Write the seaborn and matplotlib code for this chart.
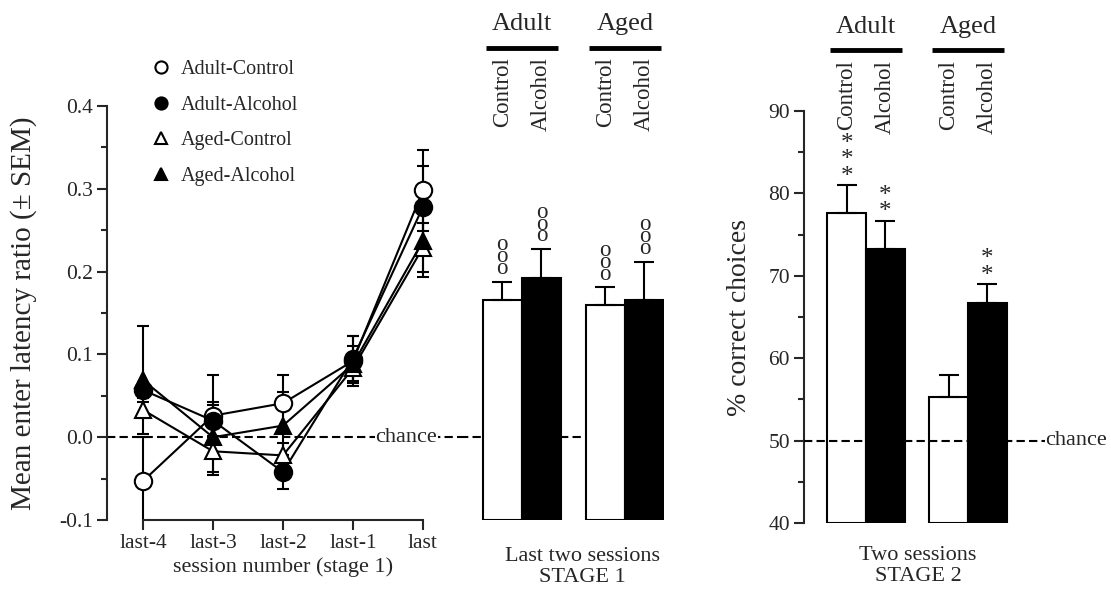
import numpy as np
import pandas as pd
import seaborn as sns
import matplotlib.pyplot as plt
import matplotlib.transforms as mtransforms

# ---- data ----
sessions = ['last-4', 'last-3', 'last-2', 'last-1', 'last']
groups = ['Adult-Control', 'Adult-Alcohol', 'Aged-Control', 'Aged-Alcohol']
stage1_means = {
    'Adult-Control': [-0.053, 0.026, 0.041, 0.092, 0.298],
    'Adult-Alcohol': [0.057, 0.020, -0.042, 0.095, 0.278],
    'Aged-Control': [0.033, -0.017, -0.022, 0.083, 0.229],
    'Aged-Alcohol': [0.069, 0.000, 0.014, 0.088, 0.237],
}
stage1_sems = {
    'Adult-Control': [0.053, 0.049, 0.034, 0.030, 0.049],
    'Adult-Alcohol': [0.010, 0.019, 0.020, 0.027, 0.049],
    'Aged-Control': [0.010, 0.029, 0.015, 0.018, 0.030],
    'Aged-Alcohol': [0.065, 0.042, 0.041, 0.022, 0.043],
}

ages = ['Adult', 'Adult', 'Aged', 'Aged']
treatments = ['Control', 'Alcohol', 'Control', 'Alcohol']
last_two_mean = [0.166, 0.192, 0.160, 0.166]
last_two_sem = [0.022, 0.035, 0.021, 0.046]
last_two_marks = ['ooo', 'ooo', 'ooo', 'ooo']

stage2_mean = [77.6, 73.3, 55.3, 66.7]
stage2_sem = [3.4, 3.4, 2.7, 2.3]
stage2_marks = ['***', '**', '', '**']

age_order = ['Adult', 'Aged']
treat_order = ['Control', 'Alcohol']
fills = {'Control': 'white', 'Alcohol': 'black'}

sns.set_style('ticks')
plt.rcParams['font.family'] = ['Liberation Serif', 'DejaVu Serif']
plt.rcParams['axes.linewidth'] = 1.5

fig = plt.figure(figsize=(11.11, 5.90), dpi=100)
W, H = 1111, 590


def px_axes(x0, x1, y_top, y_bot):
    return fig.add_axes([x0 / W, (H - y_bot) / H, (x1 - x0) / W, (y_bot - y_top) / H])


ax1 = px_axes(107, 460, 106, 520)
ax2 = px_axes(460, 664, 106, 520)
ax3 = px_axes(804, 1045, 111, 523)
for a in (ax1, ax2, ax3):
    a.set_facecolor('none')

# ---- left panel: line plot ----
rows = []
for g in groups:
    for i, s in enumerate(sessions):
        rows.append({'group': g, 'pos': i, 'session': s,
                     'mean': stage1_means[g][i], 'sem': stage1_sems[g][i]})
df1 = pd.DataFrame(rows)

styles = {
    'Adult-Control': ('o', 'white', 12.5),
    'Adult-Alcohol': ('o', 'black', 12.5),
    'Aged-Control': ('^', 'white', 12),
    'Aged-Alcohol': ('^', 'black', 12),
}
for g in groups:
    d = df1[df1['group'] == g]
    ax1.errorbar(d['pos'], d['mean'], yerr=d['sem'], fmt='none', ecolor='black',
                 elinewidth=1.5, capsize=4, capthick=1.5, zorder=2)
for g in groups:
    d = df1[df1['group'] == g]
    m, fc, ms = styles[g]
    sns.lineplot(data=d, x='pos', y='mean', ax=ax1, color='black', lw=1.5,
                 marker=m, markersize=ms, markerfacecolor=fc, markeredgecolor='black',
                 markeredgewidth=1.5, label=g, sort=False, zorder=3)

ax1.set_xlim(-0.514, 4.53)
ax1.set_ylim(-0.1, 0.4)
ax1.set_xticks(range(len(sessions)))
ax1.set_xticklabels(sessions)
ax1.set_yticks([-0.1, 0.0, 0.1, 0.2, 0.3, 0.4])
ax1.set_yticklabels(['-0.1', '0.0', '0.1', '0.2', '0.3', '0.4'])
ax1.set_yticks(np.arange(-0.05, 0.4, 0.1), minor=True)
ax1.spines['right'].set_visible(False)
ax1.spines['top'].set_visible(False)
ax1.spines['bottom'].set_bounds(0, len(sessions) - 1)
ax1.tick_params(axis='both', which='major', length=7, width=1.5, labelsize=15.5, pad=3)
ax1.tick_params(axis='y', which='minor', length=4, width=1.5)
ax1.set_xlabel('session number (stage 1)', fontsize=16, labelpad=3)
ax1.set_ylabel('Mean enter latency ratio (± SEM)', fontsize=21, labelpad=16)
ax1.axhline(0, color='black', lw=1.5, ls=(0, (4, 2)), zorder=1, clip_on=False)
ax1.text(3.76, 0, 'chance', fontsize=16, ha='center', va='center',
         bbox=dict(facecolor='white', edgecolor='none', pad=0.5), zorder=1.5)
ax1.legend(frameon=False, loc='upper left', bbox_to_anchor=(153 / W, (H - 52) / H),
           bbox_transform=fig.transFigure, handlelength=0, handletextpad=1.0,
           markerscale=0.7, labelspacing=0.82, fontsize=14.5, borderaxespad=0)

# ---- middle panel: last two sessions, stage 1 ----
base1 = -0.1
df2 = pd.DataFrame({'age': ages, 'treat': treatments, 'mean': last_two_mean,
                    'sem': last_two_sem, 'mark': last_two_marks})
df2['height'] = df2['mean'] - base1
sns.barplot(data=df2, x='age', y='height', hue='treat', order=age_order,
            hue_order=treat_order, palette=fills, edgecolor='black', linewidth=1.5,
            width=0.76, errorbar=None, legend=False, bottom=base1, ax=ax2, zorder=2)
ax2.set_xlim(-0.60, 1.38)
ax2.set_ylim(-0.1, 0.4)
ax2.axhline(0, color='black', lw=1.5, ls=(0, (4, 2)), zorder=1)
ax2.axis('off')

# ---- right panel: stage 2 ----
base2 = 40
df3 = pd.DataFrame({'age': ages, 'treat': treatments, 'mean': stage2_mean,
                    'sem': stage2_sem, 'mark': stage2_marks})
df3['height'] = df3['mean'] - base2
sns.barplot(data=df3, x='age', y='height', hue='treat', order=age_order,
            hue_order=treat_order, palette=fills, edgecolor='black', linewidth=1.5,
            width=0.76, errorbar=None, legend=False, bottom=base2, ax=ax3, zorder=2)
ax3.set_xlim(-0.608, 1.755)
ax3.set_ylim(40, 90)
ax3.set_yticks(range(40, 91, 10))
ax3.set_yticks(range(45, 90, 10), minor=True)
ax3.set_xticks([])
ax3.set_xlabel('')
for sp in ('top', 'right', 'bottom'):
    ax3.spines[sp].set_visible(False)
ax3.tick_params(axis='y', which='major', length=7, width=1.5, labelsize=15.5, pad=3)
ax3.tick_params(axis='y', which='minor', length=4, width=1.5)
ax3.set_ylabel('% correct choices', fontsize=20, labelpad=12)
ax3.axhline(50, color='black', lw=1.5, ls=(0, (4, 2)), zorder=3)
ax3.text(1.0, 50, 'chance', fontsize=16, ha='left', va='center',
         transform=mtransforms.blended_transform_factory(ax3.transAxes, ax3.transData))


def finish_bars(ax, df, mark_size, mark_offset, spacing):
    ordered = df.set_index(['treat', 'age']).loc[[(t, a) for t in treat_order for a in age_order]]
    for p, (_, r) in zip(ax.patches, ordered.iterrows()):
        cx = p.get_x() + p.get_width() / 2
        top = p.get_y() + p.get_height()
        ax.errorbar([cx], [top], yerr=[[0], [r['sem']]], fmt='none', ecolor='black',
                    elinewidth=1.5, capsize=7.5, capthick=1.5, zorder=3)
        if r['mark']:
            ax.annotate('\n'.join(r['mark']), (cx, top + r['sem']), xytext=(0, mark_offset),
                        textcoords='offset points', ha='center', va='bottom',
                        fontsize=mark_size, linespacing=spacing, annotation_clip=False)


finish_bars(ax2, df2, 16.5, 2, 0.43)
finish_bars(ax3, df3, 18, -2, 0.68)

# ---- group headers and bottom captions ----
for ax, y_head, y_bar, y_rot in ((ax2, 24, 48, 57), (ax3, 27, 50, 60)):
    tr = mtransforms.blended_transform_factory(ax.transData, fig.transFigure)
    for gi, age in enumerate(age_order):
        ax.text(gi, 1 - y_head / H, age, transform=tr, ha='center', va='center', fontsize=19)
        ax.plot([gi - 0.35, gi + 0.35], [1 - y_bar / H] * 2, transform=tr, color='black',
                lw=3.5, clip_on=False, solid_capstyle='butt')
        for ti, t in enumerate(treat_order):
            ax.text(gi + (ti - 0.5) * 0.38, 1 - y_rot / H, t, transform=tr, rotation=90,
                    ha='center', va='top', fontsize=16.5)

ax2.text(0.59, -0.065, 'Last two sessions\nSTAGE 1', fontsize=16, ha='center', va='top',
         linespacing=1.15,
         transform=mtransforms.blended_transform_factory(ax2.transData, ax2.transAxes))
ax3.text(0.51, -0.055, 'Two sessions\nSTAGE 2', fontsize=16, ha='center', va='top',
         linespacing=1.15,
         transform=mtransforms.blended_transform_factory(ax3.transData, ax3.transAxes))

plt.savefig('out.png', dpi=100)
